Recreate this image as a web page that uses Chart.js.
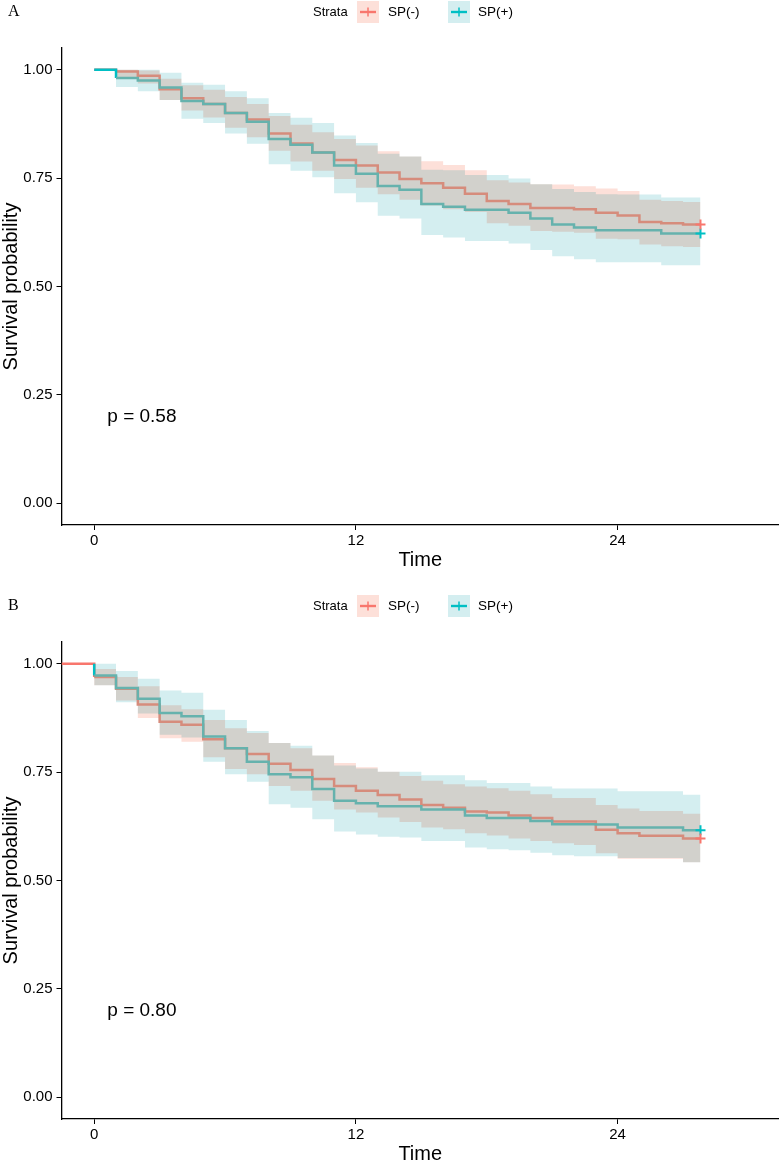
<!DOCTYPE html>
<html><head><meta charset="utf-8">
<script src="https://cdn.jsdelivr.net/npm/chart.js@4"></script>
<style>
html,body{margin:0;padding:0;background:#fff;}
#wrap{position:relative;width:779px;height:1160px;overflow:hidden;background:#fff;}
canvas.panel{position:absolute;left:0;width:779px;height:580px;}
.lab{position:absolute;left:8px;font-family:"Liberation Serif","Times New Roman",serif;font-size:16px;line-height:16px;color:#000;z-index:2;}
</style></head><body>
<div id="wrap">
  <div class="lab" id="labA" style="top:3px"></div>
  <canvas id="cA" class="panel" width="779" height="580" style="top:0px"></canvas>
  <div class="lab" id="labB" style="top:597px"></div>
  <canvas id="cB" class="panel" width="779" height="580" style="top:594px"></canvas>
</div>
<script>
// ---------- data ----------
const panelLabels = ['A', 'B'];
const legendTitle = 'Strata';
const strataLabels = ['SP(-)', 'SP(+)'];
const pValueTexts = ['p = 0.58', 'p = 0.80'];
const xTitle = 'Time';
const yTitle = 'Survival probability';
const xTicks = [0, 12, 24];
const yTicks = [0, 0.25, 0.5, 0.75, 1];

// Panel A
const timesA = [0,1,2,3,4,5,6,7,8,9,10,11,12,13,14,15,16,17,18,19,20,21,22,23,24,25,26,27,27.8];
const survA_neg = [1.000,0.996,0.986,0.955,0.934,0.921,0.900,0.885,0.853,0.830,0.809,0.792,0.779,0.763,0.748,0.738,0.728,0.714,0.697,0.690,0.681,0.681,0.678,0.670,0.664,0.649,0.646,0.643,0.643];
const upperA_neg = [1.000,1.000,0.998,0.979,0.964,0.954,0.937,0.921,0.893,0.873,0.856,0.840,0.825,0.812,0.800,0.789,0.780,0.768,0.745,0.740,0.736,0.735,0.731,0.726,0.720,0.700,0.697,0.695,0.695];
const lowerA_neg = [1.000,0.979,0.968,0.930,0.906,0.890,0.866,0.844,0.813,0.788,0.767,0.748,0.728,0.713,0.700,0.687,0.678,0.672,0.646,0.640,0.628,0.626,0.624,0.610,0.609,0.597,0.593,0.591,0.591];
const survA_pos = [1.000,0.981,0.975,0.959,0.928,0.921,0.900,0.880,0.840,0.827,0.809,0.779,0.760,0.732,0.723,0.690,0.684,0.677,0.677,0.670,0.657,0.643,0.636,0.630,0.630,0.630,0.622,0.622,0.622];
const upperA_pos = [1.000,1.000,1.000,0.993,0.970,0.965,0.950,0.934,0.900,0.889,0.877,0.848,0.831,0.806,0.800,0.769,0.768,0.757,0.757,0.749,0.736,0.725,0.718,0.713,0.712,0.712,0.705,0.705,0.705];
const lowerA_pos = [1.000,0.960,0.950,0.930,0.887,0.877,0.853,0.829,0.782,0.767,0.752,0.715,0.694,0.663,0.657,0.619,0.613,0.605,0.605,0.599,0.584,0.570,0.563,0.556,0.556,0.556,0.549,0.549,0.549];

// Panel B
const timesB_neg = [-1.5,0,1,2,3,4,5,6,7,8,9,10,11,12,13,14,15,16,17,18,19,20,21,22,23,24,25,26,27,27.8];
const survB_neg = [1.000,0.969,0.942,0.906,0.866,0.859,0.826,0.805,0.792,0.769,0.755,0.734,0.718,0.707,0.697,0.687,0.674,0.668,0.659,0.657,0.650,0.644,0.636,0.636,0.617,0.609,0.603,0.603,0.597,0.597];
const upperB_neg = [1.000,0.988,0.969,0.948,0.904,0.895,0.870,0.851,0.840,0.817,0.805,0.788,0.771,0.761,0.751,0.741,0.730,0.722,0.717,0.713,0.707,0.699,0.690,0.690,0.674,0.666,0.660,0.660,0.654,0.654];
const lowerB_neg = [1.000,0.950,0.915,0.875,0.828,0.820,0.784,0.757,0.745,0.718,0.707,0.684,0.664,0.657,0.645,0.635,0.622,0.618,0.609,0.604,0.597,0.591,0.586,0.582,0.563,0.550,0.550,0.550,0.542,0.542];
const timesB_pos = [0,0,1,2,3,4,5,6,7,8,9,10,11,12,13,14,15,16,17,18,19,20,21,22,23,24,25,26,27,27.8];
const survB_pos = [1.000,0.973,0.944,0.919,0.886,0.879,0.832,0.805,0.774,0.745,0.738,0.711,0.684,0.678,0.671,0.671,0.664,0.664,0.650,0.644,0.644,0.637,0.630,0.630,0.629,0.622,0.622,0.622,0.616,0.616];
const upperB_pos = [1.000,1.000,0.983,0.965,0.938,0.933,0.894,0.870,0.845,0.817,0.811,0.788,0.765,0.758,0.751,0.751,0.743,0.743,0.731,0.725,0.725,0.717,0.712,0.712,0.712,0.706,0.706,0.706,0.698,0.698];
const lowerB_pos = [1.000,0.950,0.911,0.885,0.836,0.830,0.774,0.745,0.728,0.676,0.668,0.641,0.613,0.606,0.601,0.599,0.591,0.591,0.576,0.572,0.570,0.564,0.558,0.556,0.556,0.552,0.552,0.552,0.542,0.542];

// ---------- styles ----------
const FONT = '"Liberation Sans", Arial, Helvetica, sans-serif';
const brightCol = ['#F8766D', '#00BFC4'];
const lineCol = ['#D68C7C', '#66B2AD'];
const bandCol = ['#FDE0D9', '#D4EEF0'];

Chart.defaults.font.family = FONT;

document.getElementById('labA').textContent = panelLabels[0];
document.getElementById('labB').textContent = panelLabels[1];

function pts(t, v) { return t.map((x, i) => ({x: x, y: v[i]})); }

const decoPlugin = {
  id: 'deco',
  beforeDraw(chart) { chart.ctx.globalCompositeOperation = 'multiply'; },
  beforeDatasetDraw(chart) { chart.ctx.globalCompositeOperation = 'source-over'; },
  afterDraw(chart) {
    const ctx = chart.ctx;
    const o = chart.options.plugins.deco;
    ctx.save();
    ctx.globalCompositeOperation = 'source-over';
    ctx.fillStyle = '#000';
    ctx.textBaseline = 'middle';
    ctx.textAlign = 'left';
    ctx.font = '13px ' + FONT;
    ctx.fillText(legendTitle, 313, 12);
    const keys = [{x: 357, tx: 388}, {x: 448, tx: 478}];
    keys.forEach((k, i) => {
      ctx.fillStyle = bandCol[i];
      ctx.fillRect(k.x, 1, 22, 22);
      ctx.strokeStyle = brightCol[i];
      ctx.lineWidth = 2.4;
      ctx.beginPath(); ctx.moveTo(k.x + 3, 12); ctx.lineTo(k.x + 19, 12); ctx.stroke();
      ctx.lineWidth = 1.5;
      ctx.beginPath(); ctx.moveTo(k.x + 11, 7.5); ctx.lineTo(k.x + 11, 16.5); ctx.stroke();
      ctx.fillStyle = '#000';
      ctx.font = '13.5px ' + FONT;
      ctx.fillText(strataLabels[i], k.tx, 12);
    });
    ctx.font = '19px ' + FONT;
    ctx.fillStyle = '#000';
    const px = chart.scales.x.getPixelForValue(o.px);
    const py = chart.scales.y.getPixelForValue(o.py);
    ctx.fillText(o.text, px, py);
    ctx.restore();
  }
};

function makeChart(id, groups, pText) {
  const datasets = [];
  groups.forEach((g, i) => {
    datasets.push({data: pts(g.t, g.up), stepped: true, borderColor: 'rgba(0,0,0,0)', borderWidth: 0, pointRadius: 0, fill: false, order: 3});
    datasets.push({data: pts(g.t, g.lo), stepped: true, borderColor: 'rgba(0,0,0,0)', borderWidth: 0, pointRadius: 0, fill: '-1', backgroundColor: bandCol[i], order: 3});
  });
  groups.forEach((g, i) => {
    datasets.push({data: pts(g.t, g.s), stepped: true, borderColor: lineCol[i], borderWidth: 2.5, pointRadius: 0, fill: false, order: 2 - i,
      segment: {borderColor: c => (c.p0.parsed.y >= 0.9999 ? brightCol[i] : undefined)}});
  });
  groups.forEach((g, i) => {
    const n = g.t.length - 1;
    datasets.push({data: [{x: g.t[n], y: g.s[n]}], showLine: false, pointStyle: 'cross', pointRadius: 5, pointBorderWidth: 2,
      borderColor: brightCol[i], backgroundColor: brightCol[i], order: -1, clip: false});
  });

  const tickFont = {family: FONT, size: 15};
  return new Chart(document.getElementById(id), {
    type: 'line',
    data: {datasets: datasets},
    plugins: [decoPlugin],
    options: {
      responsive: false,
      animation: false,
      devicePixelRatio: 1,
      layout: {padding: {top: 48, left: 0, right: 0, bottom: 0}, autoPadding: false},
      plugins: {
        legend: {display: false},
        tooltip: {enabled: false},
        filler: {drawTime: 'beforeDatasetsDraw', propagate: false},
        deco: {text: pText, px: 0.6, py: 0.2}
      },
      scales: {
        x: {
          type: 'linear', min: -1.5, max: 31.4,
          afterBuildTicks: s => { s.ticks = xTicks.map(v => ({value: v})); },
          afterFit: s => { s.height = 55; },
          ticks: {font: tickFont, color: '#000', padding: 2, maxRotation: 0, autoSkip: false, callback: v => String(v)},
          grid: {display: true, drawOnChartArea: false, drawTicks: true, tickLength: 5, color: '#000', lineWidth: 1},
          border: {display: true, color: '#000', width: 1.3},
          title: {display: true, text: xTitle, color: '#000', font: {family: FONT, size: 20, lineHeight: 1.2}, padding: {top: 0, bottom: 8}}
        },
        y: {
          type: 'linear', min: -0.05, max: 1.05,
          afterBuildTicks: s => { s.ticks = yTicks.map(v => ({value: v})); },
          afterFit: s => { s.width = 61.5; },
          ticks: {font: tickFont, color: '#000', padding: 4, callback: v => Number(v).toFixed(2)},
          grid: {display: true, drawOnChartArea: false, drawTicks: true, tickLength: 5, color: '#000', lineWidth: 1},
          border: {display: true, color: '#000', width: 1.3},
          title: {display: true, text: yTitle, color: '#000', font: {family: FONT, size: 20, lineHeight: 1.1}, padding: {top: 0, bottom: 0}}
        }
      }
    }
  });
}

makeChart('cA', [
  {t: timesA, s: survA_neg, up: upperA_neg, lo: lowerA_neg},
  {t: timesA, s: survA_pos, up: upperA_pos, lo: lowerA_pos}
], pValueTexts[0]);

makeChart('cB', [
  {t: timesB_neg, s: survB_neg, up: upperB_neg, lo: lowerB_neg},
  {t: timesB_pos, s: survB_pos, up: upperB_pos, lo: lowerB_pos}
], pValueTexts[1]);
</script>
</body></html>
